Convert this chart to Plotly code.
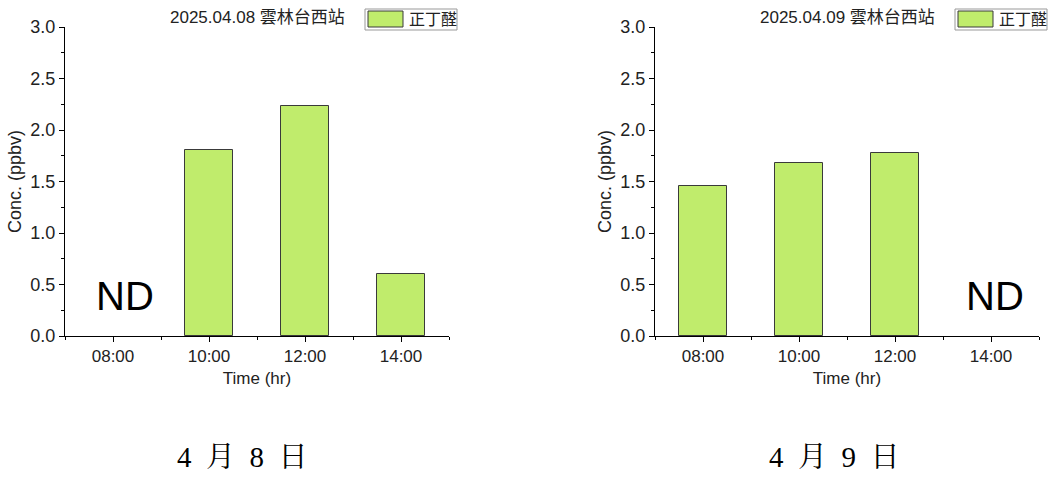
import plotly.graph_objects as go

times = ["08:00", "10:00", "12:00", "14:00"]
conc_0408 = [None, 1.81, 2.23, 0.60]
conc_0409 = [1.46, 1.68, 1.78, None]
titles = ["2025.04.08 雲林台西站", "2025.04.09 雲林台西站"]
dates = ["4\u2002月\u20028\u2002日", "4\u2002月\u20029\u2002日"]
nd_pos = ["08:00", "14:00"]
species = "正丁醛"

BAR = "#C0EC6C"
EDGE = "#3a3a3a"
SANS = "Liberation Sans, Arial, Noto Sans CJK TC, sans-serif"
SERIF = "Liberation Serif, Times New Roman, Noto Serif CJK TC, Noto Sans CJK TC, serif"
W, H = 1051, 477

def px(x):
    return x / W

def py(y):
    return 1 - y / H

xidx = list(range(len(times)))
fig = go.Figure()

doms = [[px(65), px(449)], [px(655), px(1039)]]
ydom = [py(336), py(27)]
legend_box = [(365, 457), (955, 1047)]
title_cx = [257, 847]
date_left = [175, 767]
nd_shift = [0.12, 0.04]

for i, vals in enumerate([conc_0408, conc_0409]):
    xa = "x" if i == 0 else "x2"
    ya = "y" if i == 0 else "y2"
    fig.add_trace(go.Bar(
        x=xidx, y=vals, width=0.5, name=species,
        marker=dict(color=BAR, line=dict(color=EDGE, width=1)),
        xaxis=xa, yaxis=ya, showlegend=False,
    ))
    sfx = "" if i == 0 else str(i + 1)
    fig.update_layout(**{
        f"xaxis{sfx}": dict(
            domain=doms[i], anchor=ya, range=[-0.5, 3.5],
            tickvals=xidx, ticktext=times, ticks="outside", ticklen=5,
            tickcolor="black", showline=True, linecolor="black", linewidth=1,
            showgrid=False, zeroline=False, automargin=False,
            minor=dict(tickvals=[k - 0.5 for k in range(len(times) + 1)],
                       ticks="outside", ticklen=3, tickcolor="black"),
            tickfont=dict(family=SANS, size=17, color="#222"),
            title=dict(text="Time (hr)", font=dict(family=SANS, size=17, color="#222"), standoff=6),
        ),
        f"yaxis{sfx}": dict(
            domain=ydom, anchor=xa, range=[0, 3], dtick=0.5, tickformat=".1f",
            ticks="outside", ticklen=5, tickcolor="black",
            showline=True, linecolor="black", linewidth=1,
            showgrid=False, zeroline=False, automargin=False,
            minor=dict(dtick=0.25, ticks="outside", ticklen=3, tickcolor="black"),
            tickfont=dict(family=SANS, size=18, color="#222"),
            title=dict(text="Conc. (ppbv)", font=dict(family=SANS, size=18, color="#222"), standoff=4),
        ),
    })
    # title
    fig.add_annotation(xref="paper", yref="paper", x=px(title_cx[i]), y=py(18),
                       text=titles[i], showarrow=False, xanchor="center", yanchor="middle",
                       font=dict(family=SANS, size=17, color="#222"))
    # legend (box, swatch, label)
    lx0, lx1 = legend_box[i]
    fig.add_shape(type="rect", xref="paper", yref="paper",
                  x0=px(lx0), x1=px(lx1), y0=py(30), y1=py(9),
                  line=dict(color="#999", width=1), fillcolor="white")
    fig.add_shape(type="rect", xref="paper", yref="paper",
                  x0=px(lx0 + 3), x1=px(lx0 + 38), y0=py(27), y1=py(11),
                  line=dict(color=EDGE, width=1), fillcolor=BAR)
    fig.add_annotation(xref="paper", yref="paper", x=px(lx0 + 42), y=py(19.5),
                       text=species, showarrow=False, xanchor="left", yanchor="middle",
                       font=dict(family=SANS, size=16, color="#222"))
    # ND
    fig.add_annotation(xref=xa, yref=ya, x=times.index(nd_pos[i]) + nd_shift[i], y=0.39,
                       text="ND", showarrow=False,
                       font=dict(family=SANS, size=40, color="black"))
    # date label
    fig.add_annotation(xref="paper", yref="paper", x=px(date_left[i]),
                       y=py(457), text=dates[i], showarrow=False,
                       xanchor="left", yanchor="middle",
                       font=dict(family=SERIF, size=29, color="black"))

fig.update_layout(
    width=W, height=H, margin=dict(l=0, r=0, t=0, b=0, autoexpand=False),
    plot_bgcolor="white", paper_bgcolor="white", bargap=0, showlegend=False,
)
post = ("document.body.style.margin='0';document.body.style.overflow='hidden';"
        "Plotly.Plots.resize(document.getElementById('{plot_id}'));")
fig.write_html("out.html", post_script=post, config={"displayModeBar": False})
